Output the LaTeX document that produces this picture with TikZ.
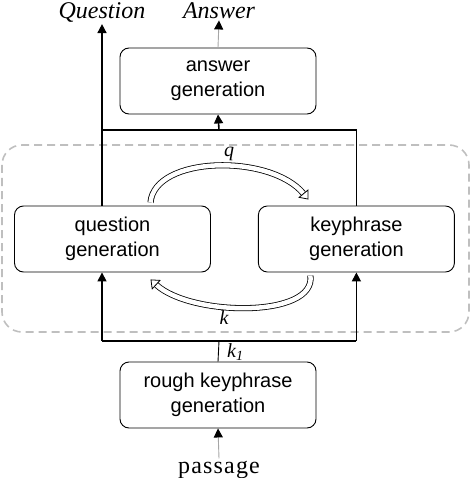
\documentclass[tikz,border=0pt]{standalone}
\usepackage{fontspec}
\setmainfont{Liberation Serif}
\setsansfont{Liberation Sans}
\usetikzlibrary{arrows.meta, positioning, calc}
\tikzset{
    box/.style={rectangle, rounded corners=9pt, minimum width=196pt, minimum height=66pt, align=center, draw=black, line width=0.9pt, font=\sffamily\fontsize{20}{25}\selectfont},
    outlabel/.style={font=\itshape\fontsize{24}{28}\selectfont, inner sep=1pt, anchor=base},
    varlabel/.style={font=\itshape\fontsize{20}{24}\selectfont, inner sep=1pt},
    line/.style={line width=1.6pt},
    arrow/.style={line width=1.6pt, -{Triangle[length=9pt,width=9pt]}},
    greyarrow/.style={line width=0.9pt, draw=gray!70, -{Triangle[length=9pt,width=9pt,color=black]}},
    fatarrow/.style={double, double distance=4.5pt, line width=0.8pt, -{Triangle[open,length=8pt,width=13pt]}},
    group/.style={draw=gray!50, line width=1.6pt, dash pattern=on 8pt off 5pt, rounded corners=20pt},
}

\begin{document}
\begin{tikzpicture}[x=1pt, y=-1pt, node distance=90pt]
    \useasboundingbox (0,0) rectangle (472,478);

    % blocks
    \node [box] (ans) at (218,81) {answer\\generation};
    \node [box] (qg) at (112.5,239) {question\\generation};
    \node [box, right=47pt of qg] (kg) {keyphrase\\generation};
    \node [box] (rk) at (218,395) {rough keyphrase\\generation};

    % texts
    \node [outlabel] (qout) at (102,19) {Question};
    \node [outlabel] (aout) at (219,19) {Answer};
    \node [font=\fontsize{24}{28}\selectfont\addfontfeatures{LetterSpace=5}, inner sep=2pt, anchor=base] (psg) at (219,473) {passage};

    % dashed frame round the loop
    \draw [group] (2,145) rectangle (469,332);

    % upper lines
    \coordinate (upper) at (219,130);
    \draw [arrow] (qout.south |- qg.north) -- (qout.south);
    \draw [line] (upper -| qout.south) -- (upper -| kg.north) -- (kg.north);
    \draw [arrow] (upper) -- (ans.south);
    \draw [greyarrow] (ans.north) -- (aout.south);

    % lower lines
    \coordinate (lower) at (219,341);
    \draw [line] (lower -| qout.south) -- (lower -| kg.south);
    \draw [arrow] (lower -| qout.south) -- (qout.south |- qg.south);
    \draw [arrow] (lower -| kg.south) -- (kg.south);
    \draw [line width=0.9pt] (lower) -- (rk.north);
    \node [varlabel, right=7pt of lower, yshift=-11pt] (k1) {k\textsubscript{1}};
    \draw [greyarrow] (psg.north) -- (rk.south);

    % loop between the two generators
    \draw [fatarrow] ($(qg.north)+(38,-3)$) .. controls ($(qg.north)+(42,-50)$) and ($(kg.north)+(-86,-52)$) .. ($(kg.north)+(-48,-6)$);
    \draw [fatarrow] ($(kg.south)+(-46,3)$) .. controls ($(kg.south)+(-40,46)$) and ($(qg.south)+(78,44)$) .. ($(qg.south)+(38,7)$);
    \node [varlabel] (q) at (229,154) {q};
    \node [varlabel] (k) at (224,318) {k};
\end{tikzpicture}
\end{document}
